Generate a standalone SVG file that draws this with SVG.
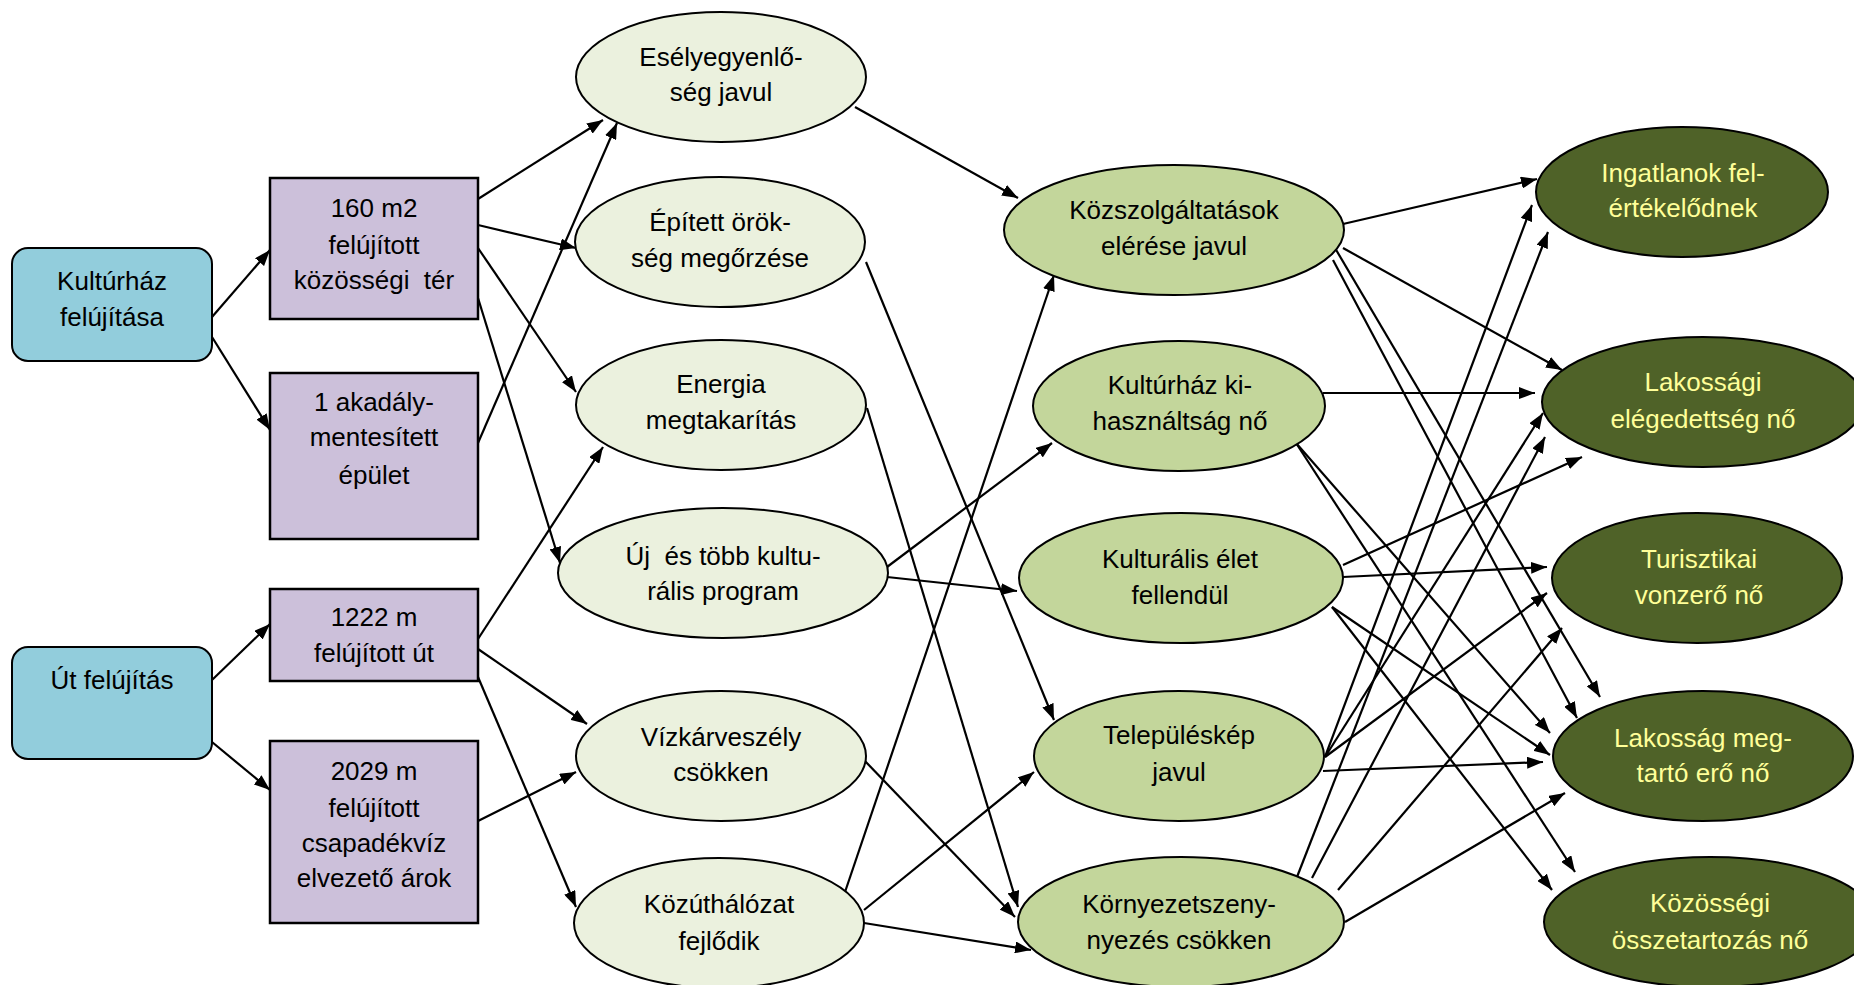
<svg xmlns="http://www.w3.org/2000/svg" width="1854" height="985" viewBox="0 0 1854 985">
<defs>
<marker id="ah" markerUnits="userSpaceOnUse" markerWidth="16" markerHeight="12" viewBox="0 0 16 12" refX="16" refY="6" orient="auto">
<path d="M0,0 L16,6 L0,12 z" fill="#000"/>
</marker>
</defs>
<style>
.t{font-family:"Liberation Sans",Arial,sans-serif;font-size:26px;text-anchor:middle;fill:#000}
.y{fill:#FFFF99}
.blue{fill:#92CDDC;stroke:#000;stroke-width:2}
.pur{fill:#CCC0DA;stroke:#000;stroke-width:2.5}
.e1{fill:#EBF1DE;stroke:#000;stroke-width:2}
.e2{fill:#C3D69B;stroke:#000;stroke-width:2}
.e3{fill:#4F6228;stroke:#000;stroke-width:2}
.c line{stroke:#000;stroke-width:2.2;marker-end:url(#ah)}
</style>
<rect width="1854" height="985" fill="#fff"/>
<g class="c" id="connectors">
<line x1="212" y1="317" x2="270" y2="250"/>
<line x1="212" y1="337" x2="270" y2="430"/>
<line x1="212" y1="680" x2="270" y2="624"/>
<line x1="212" y1="742" x2="270" y2="790"/>
<line x1="478" y1="199" x2="603" y2="120"/>
<line x1="478" y1="225" x2="576" y2="248"/>
<line x1="478" y1="248" x2="576" y2="392"/>
<line x1="478" y1="298" x2="560" y2="563"/>
<line x1="478" y1="443" x2="617" y2="123"/>
<line x1="478" y1="639" x2="603" y2="447"/>
<line x1="478" y1="649" x2="587" y2="724"/>
<line x1="478" y1="677" x2="576" y2="907"/>
<line x1="478" y1="821" x2="576" y2="772"/>
<line x1="855" y1="107" x2="1018" y2="198"/>
<line x1="866" y1="262" x2="1054" y2="720"/>
<line x1="867" y1="408" x2="1018" y2="907"/>
<line x1="864" y1="760" x2="1015" y2="917"/>
<line x1="887" y1="567" x2="1052" y2="443"/>
<line x1="887" y1="577" x2="1017" y2="591"/>
<line x1="844" y1="895" x2="1054" y2="275"/>
<line x1="864" y1="910" x2="1034" y2="772"/>
<line x1="864" y1="923" x2="1031" y2="950"/>
<line x1="1343" y1="224" x2="1537" y2="179"/>
<line x1="1343" y1="248" x2="1562" y2="370"/>
<line x1="1335" y1="248" x2="1600" y2="697"/>
<line x1="1333" y1="260" x2="1577" y2="718"/>
<line x1="1323" y1="393" x2="1535" y2="393"/>
<line x1="1296" y1="443" x2="1550" y2="733"/>
<line x1="1296" y1="443" x2="1575" y2="872"/>
<line x1="1343" y1="565" x2="1582" y2="457"/>
<line x1="1343" y1="577" x2="1547" y2="567"/>
<line x1="1332" y1="607" x2="1550" y2="755"/>
<line x1="1332" y1="607" x2="1552" y2="890"/>
<line x1="1325" y1="757" x2="1532" y2="205"/>
<line x1="1325" y1="757" x2="1543" y2="413"/>
<line x1="1325" y1="757" x2="1547" y2="593"/>
<line x1="1323" y1="771" x2="1543" y2="762"/>
<line x1="1297" y1="877" x2="1548" y2="232"/>
<line x1="1312" y1="878" x2="1545" y2="437"/>
<line x1="1338" y1="890" x2="1562" y2="628"/>
<line x1="1345" y1="922" x2="1565" y2="793"/>
</g>
<g id="n_kultfel"><rect class="blue" x="12" y="248" width="200" height="113" rx="16"/><text class="t" x="112" y="290">Kultúrház</text><text class="t" x="112" y="326">felújítása</text></g>
<g id="n_utfel"><rect class="blue" x="12" y="647" width="200" height="112" rx="16"/><text class="t" x="112" y="689">Út felújítás</text></g>
<g id="n_160"><rect class="pur" x="270" y="178" width="208" height="141"/><text class="t" x="374" y="217">160 m2</text><text class="t" x="374" y="254">felújított</text><text class="t" x="374" y="289" xml:space="preserve">közösségi  tér</text></g>
<g id="n_akad"><rect class="pur" x="270" y="373" width="208" height="166"/><text class="t" x="374" y="411">1 akadály-</text><text class="t" x="374" y="446">mentesített</text><text class="t" x="374" y="484">épület</text></g>
<g id="n_1222"><rect class="pur" x="270" y="589" width="208" height="92"/><text class="t" x="374" y="626">1222 m</text><text class="t" x="374" y="662">felújított út</text></g>
<g id="n_2029"><rect class="pur" x="270" y="741" width="208" height="182"/><text class="t" x="374" y="780">2029 m</text><text class="t" x="374" y="817">felújított</text><text class="t" x="374" y="852">csapadékvíz</text><text class="t" x="374" y="887">elvezető árok</text></g>
<g id="n_esely"><ellipse class="e1" cx="721" cy="77" rx="145" ry="65"/><text class="t" x="721" y="66">Esélyegyenlő-</text><text class="t" x="721" y="101">ség javul</text></g>
<g id="n_epitett"><ellipse class="e1" cx="720" cy="242" rx="145" ry="65"/><text class="t" x="720" y="231">Épített örök-</text><text class="t" x="720" y="267">ség megőrzése</text></g>
<g id="n_energia"><ellipse class="e1" cx="721" cy="405" rx="145" ry="65"/><text class="t" x="721" y="393">Energia</text><text class="t" x="721" y="429">megtakarítás</text></g>
<g id="n_uj"><ellipse class="e1" cx="723" cy="573" rx="165" ry="65"/><text class="t" x="723" y="565" xml:space="preserve">Új  és több kultu-</text><text class="t" x="723" y="600">rális program</text></g>
<g id="n_vizkar"><ellipse class="e1" cx="721" cy="756" rx="145" ry="65"/><text class="t" x="721" y="746">Vízkárveszély</text><text class="t" x="721" y="781">csökken</text></g>
<g id="n_kozut"><ellipse class="e1" cx="719" cy="923" rx="145" ry="65"/><text class="t" x="719" y="913">Közúthálózat</text><text class="t" x="719" y="950">fejlődik</text></g>
<g id="n_kozszolg"><ellipse class="e2" cx="1174" cy="230" rx="170" ry="65"/><text class="t" x="1174" y="219">Közszolgáltatások</text><text class="t" x="1174" y="255">elérése javul</text></g>
<g id="n_kultki"><ellipse class="e2" cx="1179" cy="406" rx="146" ry="65"/><text class="t" x="1180" y="394">Kultúrház ki-</text><text class="t" x="1180" y="430">használtság nő</text></g>
<g id="n_kulturalis"><ellipse class="e2" cx="1181" cy="578" rx="162" ry="65"/><text class="t" x="1180" y="568">Kulturális élet</text><text class="t" x="1180" y="604">fellendül</text></g>
<g id="n_telepules"><ellipse class="e2" cx="1179" cy="756" rx="145" ry="65"/><text class="t" x="1179" y="744">Településkép</text><text class="t" x="1179" y="781">javul</text></g>
<g id="n_kornyezet"><ellipse class="e2" cx="1181" cy="922" rx="163" ry="65"/><text class="t" x="1179" y="913">Környezetszeny-</text><text class="t" x="1179" y="949">nyezés csökken</text></g>
<g id="n_ingatlan"><ellipse class="e3" cx="1682" cy="192" rx="146" ry="65"/><text class="t y" x="1683" y="182">Ingatlanok fel-</text><text class="t y" x="1683" y="217">értékelődnek</text></g>
<g id="n_lakelegedett"><ellipse class="e3" cx="1703" cy="402" rx="161" ry="65"/><text class="t y" x="1703" y="391">Lakossági</text><text class="t y" x="1703" y="428">elégedettség nő</text></g>
<g id="n_turiszt"><ellipse class="e3" cx="1697" cy="578" rx="145" ry="65"/><text class="t y" x="1699" y="568">Turisztikai</text><text class="t y" x="1699" y="604">vonzerő nő</text></g>
<g id="n_megtarto"><ellipse class="e3" cx="1703" cy="756" rx="150" ry="65"/><text class="t y" x="1703" y="747">Lakosság meg-</text><text class="t y" x="1703" y="782">tartó erő nő</text></g>
<g id="n_kozosseg"><ellipse class="e3" cx="1710" cy="922" rx="166" ry="65"/><text class="t y" x="1710" y="912">Közösségi</text><text class="t y" x="1710" y="949">összetartozás nő</text></g>
</svg>
